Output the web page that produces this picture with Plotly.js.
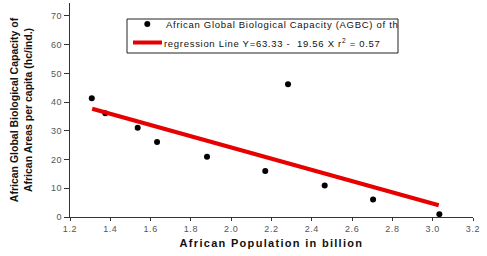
<!DOCTYPE html>
<html>
<head>
<meta charset="utf-8">
<script src="https://cdn.plot.ly/plotly-3.0.1.min.js"></script>
<style>
html,body{margin:0;padding:0;background:#fff;}
#chart{width:487px;height:256px;}
.xtitle{letter-spacing:1.3px;}
.annotation-text{letter-spacing:0.7px;}
.xtick text,.ytick text{letter-spacing:0.6px;}
</style>
</head>
<body>
<div id="chart"></div>
<script>
// African population (billion) vs biological capacity per capita (hc/ind.)
const population = [1.308, 1.375, 1.536, 1.632, 1.88, 2.169, 2.282, 2.464, 2.704, 3.033];
const capacity = [41.3, 36.1, 31.1, 26.1, 21.0, 16.0, 46.2, 11.0, 6.1, 1.0];
// regression line endpoints
const regX = [1.31, 3.03];
const regY = [37.7, 4.1];
const xTicks = [1.2, 1.4, 1.6, 1.8, 2.0, 2.2, 2.4, 2.6, 2.8, 3.0, 3.2];
const xTickText = ['1.2', '1.4', '1.6', '1.8', '2.0', '2.2', '2.4', '2.6', '2.8', '3.0', '3.2'];
const yTicks = [0, 10, 20, 30, 40, 50, 60, 70];
const seriesNames = ['African Global Biological Capacity (AGBC) of th',
                     'regression Line Y=63.33 -  19.56 X r<sup>2</sup> = 0.57'];

const M = {l: 70, r: 14, t: 3, b: 39};
const W = 487, H = 256;
const PW = W - M.l - M.r, PH = H - M.t - M.b;
const px = v => (v - M.l) / PW;          // pixel x -> paper x
const py = v => (H - M.b - v) / PH;      // pixel y -> paper y

const traces = [
  {
    x: population, y: capacity, type: 'scatter', mode: 'markers',
    name: seriesNames[0], showlegend: false,
    marker: {color: '#000', size: 6}
  },
  {
    x: regX, y: regY, type: 'scatter', mode: 'lines',
    name: seriesNames[1], showlegend: false,
    line: {color: '#e60000', width: 4}
  }
];

const layout = {
  width: W, height: H,
  margin: M,
  paper_bgcolor: '#fff', plot_bgcolor: '#fff',
  font: {family: 'Arial, Liberation Sans, sans-serif', color: '#333', size: 9},
  showlegend: false,
  xaxis: {
    range: [1.2, 3.2], tickvals: xTicks, ticktext: xTickText,
    showgrid: false, zeroline: false, showline: true, linecolor: '#333', linewidth: 1,
    ticks: 'outside', ticklen: 3, tickcolor: '#333',
    tickfont: {size: 9, color: '#555'},
    title: {text: '<b>African Population in billion</b>', font: {size: 11, color: '#111'}, standoff: 6}
  },
  yaxis: {
    range: [0, 74.5], tickvals: yTicks,
    showgrid: false, zeroline: false, showline: true, linecolor: '#333', linewidth: 1,
    ticks: 'outside', ticklen: 5, tickcolor: '#333',
    tickfont: {size: 9, color: '#555'},
    title: {text: '<b>African Global Biological Capacity of<br>African Areas per capita (hc/ind.)</b>', font: {size: 10.5, color: '#111'}, standoff: 16}
  },
  shapes: [
    {type: 'rect', xref: 'paper', yref: 'paper', x0: px(127), x1: px(398), y0: py(53), y1: py(19),
     line: {color: '#222', width: 1}, fillcolor: '#fff', layer: 'above'},
    {type: 'circle', xref: 'paper', yref: 'paper', x0: px(144.3), x1: px(150.3), y0: py(27), y1: py(21),
     line: {color: '#000', width: 0}, fillcolor: '#000', layer: 'above'},
    {type: 'line', xref: 'paper', yref: 'paper', x0: px(133), x1: px(162), y0: py(42.5), y1: py(42.5),
     line: {color: '#e60000', width: 4}, layer: 'above'}
  ],
  annotations: [
    {xref: 'paper', yref: 'paper', x: px(164), y: py(24.5), xanchor: 'left', yanchor: 'middle',
     text: seriesNames[0], showarrow: false, font: {size: 9.5, color: '#111'}},
    {xref: 'paper', yref: 'paper', x: px(162), y: py(43), xanchor: 'left', yanchor: 'middle',
     text: seriesNames[1], showarrow: false, font: {size: 9.5, color: '#111'}}
  ]
};

Plotly.newPlot('chart', traces, layout, {displayModeBar: false, staticPlot: true});
</script>
</body>
</html>
